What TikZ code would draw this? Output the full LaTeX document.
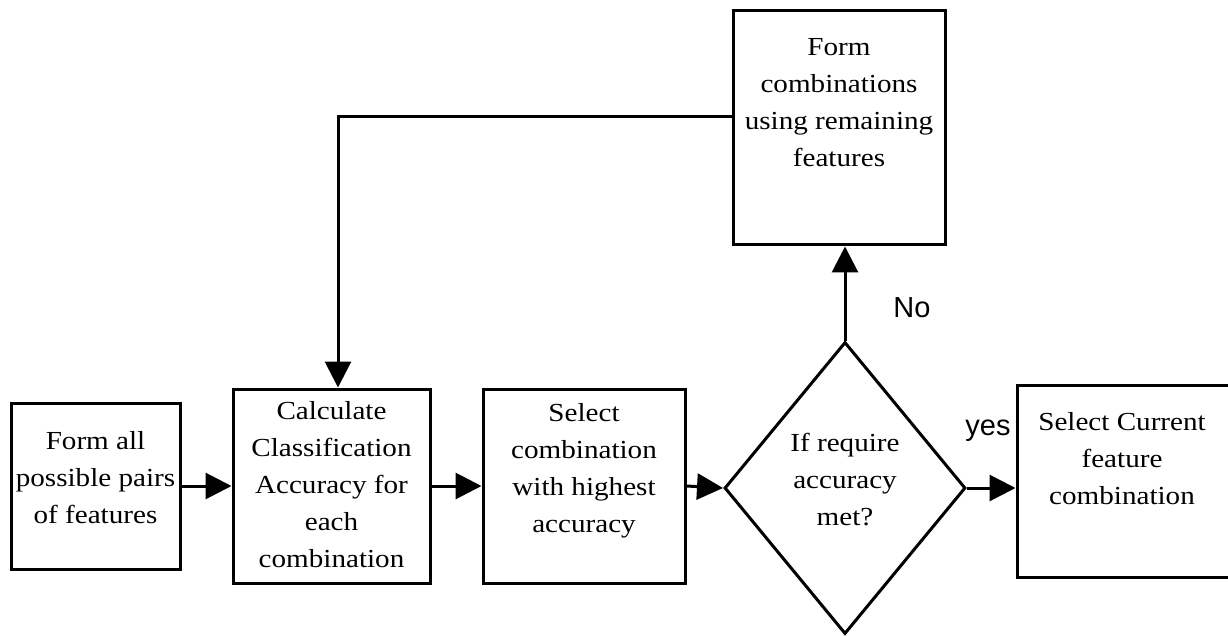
\documentclass[tikz,border=0pt]{standalone}
\usepackage{fontspec}
\setmainfont{Liberation Serif}[FakeStretch=1.12]
\newfontfamily\lblfont{Liberation Sans}
\usetikzlibrary{arrows.meta,shapes.geometric}
\begin{document}
\begin{tikzpicture}[x=1pt,y=-1pt,
  box/.style={draw,line width=3pt,rectangle,inner sep=0pt},
  dia/.style={draw,line width=3pt,diamond,inner sep=0pt},
  txt/.style={align=center,font=\fontsize{26}{37}\selectfont,inner sep=0pt},
  lbl/.style={font=\lblfont\fontsize{29}{30}\selectfont,inner sep=0pt,anchor=base},
  conn/.style={line width=3pt,-{Triangle[length=26pt,width=26pt]}}]
\clip (0,0) rectangle (1228,636);
\fill[white] (0,0) rectangle (1228,636);
% boxes
\node[box,minimum width=169,minimum height=166] (b1) at (95.5,486) {};
\node[box,minimum width=197,minimum height=194] (b2) at (331.5,486) {};
\node[box,minimum width=202,minimum height=194] (b3) at (584,486) {};
\node[dia,minimum width=241,minimum height=292] (d) at (845,488) {};
\node[box,minimum width=212,minimum height=234] (top) at (839,128) {};
\node[box,minimum width=218,minimum height=192] (b5) at (1126,481) {};
% texts
\node[txt] (t1) at (95.5,478) {Form all\\possible pairs\\of features};
\node[txt] (t2) at (331.5,485) {Calculate\\Classification\\Accuracy for\\each\\combination};
\node[txt] (t3) at (584,471) {Select\\combination\\with highest\\accuracy};
\node[txt] (t4) at (845,480) {If require\\accuracy\\met?};
\node[txt] (t5) at (839,103) {Form\\combinations\\using remaining\\features};
\node[txt] (t6) at (1122,459) {Select Current\\feature\\combination};
% labels
\node[lbl] (no) at (912,317) {No};
\node[lbl] (yes) at (988,435) {yes};
% connectors
\coordinate (k) at (338,117);
\draw[conn] (b1.east) -- (b2.west);
\draw[conn] (b2.east) -- (b3.west);
\draw[conn] (b3.east) -- (d.west);
\draw[conn] (d.east) -- (d.east -| b5.west);
\draw[conn] (d.north) -- (d.north |- top.south);
\draw[conn] (top.west |- k) -- (k) -- (k |- b2.north);
\end{tikzpicture}
\end{document}
